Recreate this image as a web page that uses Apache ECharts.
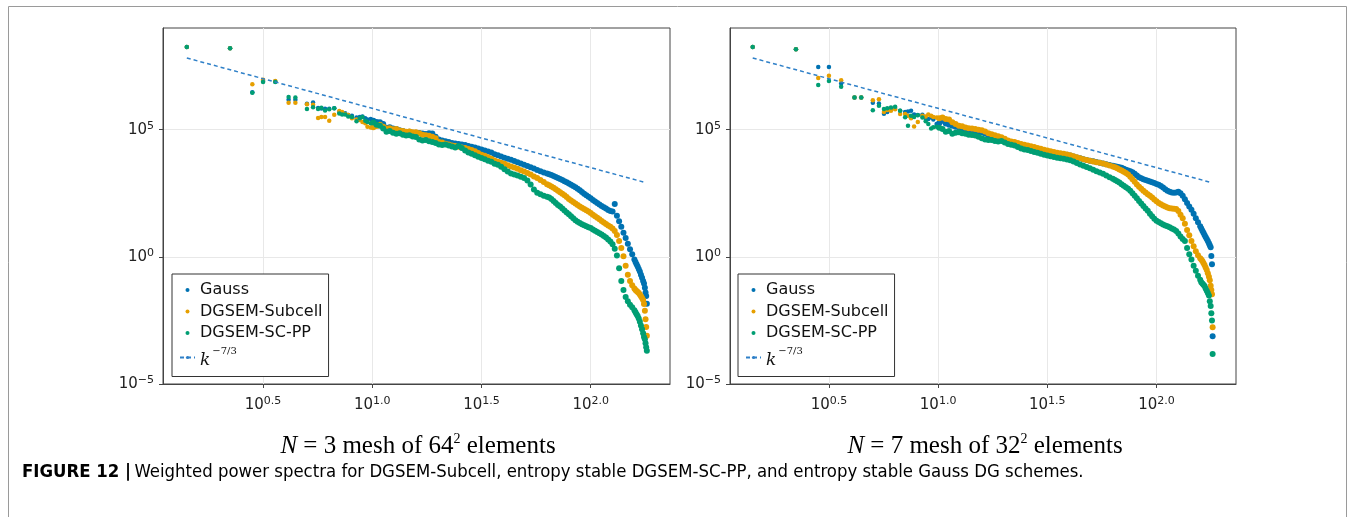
<!DOCTYPE html>
<html>
<head>
<meta charset="utf-8">
<title>Weighted power spectra</title>
<script src="https://cdn.jsdelivr.net/npm/echarts@6.0.0/dist/echarts.min.js"></script>
<style>
  html, body { margin: 0; padding: 0; background: #fff; }
  #chart { width: 1354px; height: 517px; }
</style>
</head>
<body>
<div id="chart"></div>
<script>
// log10 of the wavenumber k, shared by both meshes
const logK = [
  0.151, 0.349, 0.451, 0.5, 0.556, 0.617, 0.648, 0.701, 0.729, 0.752,
  0.767, 0.784, 0.803, 0.826, 0.849, 0.862, 0.876, 0.89, 0.907, 0.928,
  0.943, 0.955, 0.968, 0.978, 0.993,
  1.005, 1.02, 1.035, 1.05, 1.065, 1.08, 1.095, 1.11, 1.125, 1.14,
  1.155, 1.17, 1.185, 1.2, 1.215, 1.23, 1.245, 1.26, 1.275, 1.29,
  1.305, 1.32, 1.335, 1.35, 1.365, 1.38, 1.395, 1.41, 1.425, 1.44,
  1.455, 1.47, 1.485, 1.5, 1.515, 1.53, 1.545, 1.56, 1.575, 1.59,
  1.605, 1.62, 1.635, 1.65, 1.665, 1.68, 1.695, 1.71, 1.725, 1.74,
  1.755, 1.77, 1.785, 1.8,
  1.81, 1.82, 1.83, 1.84, 1.85, 1.86, 1.87, 1.88, 1.89, 1.9,
  1.91, 1.92, 1.93, 1.94, 1.95, 1.96, 1.97, 1.98, 1.99, 2.0,
  2.01, 2.02, 2.03, 2.04, 2.05, 2.06, 2.07, 2.08, 2.09, 2.1,
  2.11, 2.12, 2.13, 2.14, 2.15, 2.16, 2.17, 2.18, 2.19, 2.2,
  2.205, 2.21, 2.215, 2.22, 2.225, 2.23, 2.235, 2.24, 2.244, 2.248,
  2.251, 2.254, 2.257
];

// log10 of the weighted spectrum, N=3 mesh of 64^2 elements
const gaussN3 = [
  8.25, 8.20, 6.47, 6.92, 6.90, 6.18, 6.18, 6.02, 6.07, 5.85,
  5.83, 5.82, 5.82, 5.84, 5.70, 5.66, 5.65, 5.58, 5.55, 5.48,
  5.50, 5.52, 5.45, 5.40, 5.42,
  5.35, 5.30, 5.29, 5.22, 5.08, 5.10, 5.05, 5.03, 4.98, 4.95,
  4.90, 4.92, 4.88, 4.88, 4.87, 4.85, 4.83, 4.86, 4.85, 4.72,
  4.62, 4.58, 4.55, 4.52, 4.48, 4.46, 4.44, 4.42, 4.40, 4.36,
  4.33, 4.30, 4.26, 4.22, 4.18, 4.14, 4.10, 4.04, 4.00, 3.95,
  3.90, 3.86, 3.82, 3.77, 3.72, 3.67, 3.62, 3.57, 3.52, 3.47,
  3.42, 3.37, 3.32, 3.28,
  3.25, 3.22, 3.18, 3.14, 3.10, 3.06, 3.02, 2.97, 2.93, 2.88,
  2.84, 2.79, 2.74, 2.68, 2.62, 2.55, 2.48, 2.42, 2.36, 2.30,
  2.24, 2.18, 2.12, 2.06, 2.00, 1.95, 1.90, 1.84, 1.80, 1.78,
  2.08, 1.62, 1.40, 1.18, 0.95, 0.74, 0.52, 0.30, 0.10, -0.10,
  -0.20, -0.29, -0.38, -0.48, -0.58, -0.70, -0.82, -0.95, -1.05, -1.21,
  -1.40, -1.54, -1.84
];
const subcellN3 = [
  8.25, 8.20, 6.79, 6.96, 6.92, 6.06, 6.06, 6.00, 5.98, 5.46,
  5.50, 5.50, 5.35, 5.59, 5.74, 5.70, 5.62, 5.58, 5.45, 5.40,
  5.38, 5.30, 5.25, 5.12, 5.09,
  5.10, 5.15, 5.20, 5.12, 5.05, 5.06, 5.02, 5.03, 4.97, 4.95,
  4.92, 4.93, 4.90, 4.90, 4.86, 4.80, 4.78, 4.76, 4.72, 4.66,
  4.52, 4.50, 4.45, 4.42, 4.38, 4.36, 4.33, 4.30, 4.28, 4.24,
  4.20, 4.15, 4.08, 4.02, 3.98, 3.92, 3.86, 3.79, 3.74, 3.70,
  3.66, 3.60, 3.55, 3.51, 3.46, 3.41, 3.36, 3.30, 3.24, 3.16,
  3.10, 3.02, 2.94, 2.86,
  2.82, 2.77, 2.72, 2.66, 2.60, 2.54, 2.48, 2.42, 2.35, 2.28,
  2.22, 2.16, 2.10, 2.04, 1.98, 1.93, 1.88, 1.83, 1.78, 1.72,
  1.66, 1.60, 1.54, 1.48, 1.41, 1.35, 1.29, 1.23, 1.18, 1.12,
  1.02, 0.86, 0.62, 0.35, 0.02, -0.35, -0.70, -0.95, -1.12, -1.24,
  -1.30, -1.34, -1.38, -1.42, -1.48, -1.55, -1.62, -1.70, -1.85, -2.12,
  -2.45, -2.76, -3.10
];
const scppN3 = [
  8.25, 8.20, 6.45, 6.88, 6.88, 6.29, 6.27, 5.81, 5.88, 5.81,
  5.86, 5.76, 5.80, 5.84, 5.64, 5.60, 5.60, 5.52, 5.50, 5.33,
  5.45, 5.50, 5.35, 5.30, 5.25,
  5.28, 5.20, 5.16, 5.05, 4.92, 4.95, 4.88, 4.84, 4.86, 4.80,
  4.77, 4.78, 4.73, 4.71, 4.62, 4.58, 4.60, 4.55, 4.52, 4.48,
  4.42, 4.40, 4.42, 4.38, 4.34, 4.30, 4.36, 4.28, 4.18, 4.10,
  4.05, 4.00, 3.94, 3.89, 3.84, 3.78, 3.74, 3.66, 3.62, 3.54,
  3.45, 3.36, 3.28, 3.24, 3.20, 3.15, 3.10, 3.00, 2.85, 2.65,
  2.52, 2.46, 2.40, 2.36,
  2.33, 2.28, 2.20, 2.12, 2.04, 1.98, 1.90, 1.82, 1.74, 1.68,
  1.60, 1.52, 1.44, 1.38, 1.33, 1.28, 1.24, 1.20, 1.16, 1.13,
  1.08, 1.03, 0.98, 0.93, 0.88, 0.82, 0.76, 0.68, 0.60, 0.50,
  0.32, 0.05, -0.45, -0.95, -1.30, -1.58, -1.75, -1.88, -1.98, -2.10,
  -2.18, -2.26, -2.33, -2.42, -2.55, -2.70, -2.85, -3.00, -3.15, -3.24,
  -3.40, -3.55, -3.69
];

// log10 of the weighted spectrum, N=7 mesh of 32^2 elements
const gaussN7 = [
  8.25, 8.16, 7.47, 7.47, 6.82, 6.27, 6.27, 6.06, 6.03, 5.63,
  5.70, 5.80, 5.85, 5.75, 5.70, 5.72, 5.75, 5.60, 5.58, 5.59,
  5.45, 5.42, 5.48, 5.40, 5.22,
  5.25, 5.35, 5.24, 5.20, 5.16, 5.12, 5.09, 5.05, 4.97, 4.96,
  4.93, 4.90, 4.92, 4.90, 4.85, 4.78, 4.72, 4.66, 4.63, 4.60,
  4.56, 4.52, 4.48, 4.46, 4.42, 4.38, 4.35, 4.33, 4.30, 4.27,
  4.24, 4.20, 4.16, 4.13, 4.09, 4.07, 4.06, 4.04, 4.03, 4.02,
  3.99, 3.95, 3.91, 3.88, 3.84, 3.81, 3.78, 3.76, 3.73, 3.70,
  3.67, 3.64, 3.61, 3.58,
  3.56, 3.54, 3.52, 3.50, 3.46, 3.43, 3.40, 3.37, 3.33, 3.27,
  3.20, 3.13, 3.09, 3.05, 3.02, 2.99, 2.96, 2.93, 2.90, 2.87,
  2.84, 2.79, 2.73, 2.66, 2.60, 2.56, 2.53, 2.52, 2.53, 2.56,
  2.50, 2.40, 2.27, 2.12, 1.98, 1.85, 1.70, 1.52, 1.36, 1.20,
  1.12, 1.03, 0.95, 0.86, 0.78, 0.70, 0.62, 0.54, 0.46, 0.38,
  0.03, -0.29, -3.12
];
const subcellN7 = [
  8.25, 8.16, 7.03, 7.12, 6.95, 6.27, 6.27, 6.16, 6.20, 5.70,
  5.78, 5.75, 5.80, 5.62, 5.62, 5.55, 5.45, 5.13, 5.30, 5.55,
  5.52, 5.60, 5.55, 5.50, 5.48,
  5.45, 5.48, 5.42, 5.40, 5.29, 5.22, 5.16, 5.14, 5.09, 5.06,
  5.05, 5.03, 5.00, 4.98, 4.93, 4.86, 4.82, 4.78, 4.74, 4.70,
  4.64, 4.58, 4.54, 4.52, 4.48, 4.44, 4.41, 4.38, 4.35, 4.32,
  4.28, 4.25, 4.21, 4.18, 4.15, 4.12, 4.09, 4.07, 4.05, 4.03,
  4.00, 3.96, 3.92, 3.88, 3.84, 3.81, 3.78, 3.75, 3.72, 3.70,
  3.67, 3.63, 3.59, 3.55,
  3.52, 3.48, 3.44, 3.40, 3.35, 3.30, 3.24, 3.15, 3.05, 2.95,
  2.85, 2.76, 2.68, 2.60, 2.53, 2.46, 2.40, 2.33, 2.26, 2.19,
  2.12, 2.07, 2.02, 1.98, 1.94, 1.91, 1.90, 1.89, 1.88, 1.80,
  1.66, 1.52, 1.30, 1.06, 0.85, 0.62, 0.42, 0.22, 0.06, -0.05,
  -0.10, -0.16, -0.24, -0.32, -0.42, -0.52, -0.64, -0.78, -0.92, -1.14,
  -1.30, -1.47, -2.77
];
const scppN7 = [
  8.25, 8.16, 6.76, 6.92, 6.69, 6.27, 6.27, 5.77, 5.94, 5.81,
  5.84, 5.87, 5.90, 5.75, 5.49, 5.16, 5.55, 5.50, 5.57, 5.48,
  5.33, 5.22, 5.05, 5.10, 5.12,
  5.08, 5.03, 4.92, 4.95, 4.84, 4.88, 4.90, 4.86, 4.84, 4.80,
  4.79, 4.77, 4.72, 4.66, 4.62, 4.60, 4.60, 4.56, 4.54, 4.56,
  4.50, 4.44, 4.41, 4.38, 4.32, 4.26, 4.22, 4.20, 4.16, 4.12,
  4.09, 4.05, 4.02, 3.99, 3.96, 3.93, 3.90, 3.88, 3.86, 3.83,
  3.80, 3.75, 3.69, 3.63, 3.58, 3.53, 3.48, 3.43, 3.37, 3.32,
  3.27, 3.20, 3.13, 3.07,
  3.02, 2.97, 2.92, 2.86, 2.80, 2.74, 2.68, 2.60, 2.50, 2.40,
  2.30, 2.20, 2.10, 2.00, 1.90, 1.81, 1.70, 1.60, 1.50, 1.42,
  1.37, 1.32, 1.27, 1.23, 1.20, 1.16, 1.12, 1.08, 1.02, 0.92,
  0.80, 0.70, 0.62, 0.35, 0.10, -0.10, -0.35, -0.55, -0.74, -0.90,
  -1.00, -1.05, -1.10, -1.15, -1.24, -1.33, -1.42, -1.52, -1.75, -1.93,
  -2.22, -2.50, -3.82
];

// k^(-7/3) reference line (end points, log10 values)
const refLogK = [0.151, 2.252];
const refLogE = [7.82, 2.92];

const seriesNames = ['Gauss', 'DGSEM-Subcell', 'DGSEM-SC-PP'];
const refName = 'k-7/3';
const colors = ['#0072B2', '#E69F00', '#009E73'];
const xTicks = [0.5, 1.0, 1.5, 2.0];
const yTicks = [-5, 0, 5];
const panelTitles = ['3 mesh of 64', '7 mesh of 32'];

const chart = echarts.init(document.getElementById('chart'));

const pairs = (xs, ys) => xs.map((x, i) => [x, ys[i]]);

const tickRich = {
  b: { fontFamily: 'DejaVu Sans', fontSize: 15, color: '#222', lineHeight: 18 },
  s: { fontFamily: 'DejaVu Sans', fontSize: 11, color: '#222', lineHeight: 12, verticalAlign: 'top' }
};

function xAxisFor(gridIndex, min, max) {
  return {
    type: 'value', gridIndex, min, max,
    axisLine: { show: true, onZero: false, lineStyle: { color: '#444' } },
    axisTick: { show: true, customValues: xTicks, length: 4, lineStyle: { color: '#444' } },
    axisLabel: {
      customValues: xTicks, margin: 12, rich: tickRich,
      formatter: v => '{b|10}{s|' + v.toFixed(1) + '}'
    },
    splitLine: { show: true, lineStyle: { color: '#e8e8e8' } }
  };
}

function yAxisFor(gridIndex) {
  return {
    type: 'value', gridIndex, min: -5, max: 9,
    axisLine: { show: true, onZero: false, lineStyle: { color: '#444' } },
    axisTick: { show: true, customValues: yTicks, length: 4, lineStyle: { color: '#444' } },
    axisLabel: {
      customValues: yTicks, margin: 9, rich: tickRich,
      formatter: v => '{b|10}{s|' + (v < 0 ? '\u2212' + (-v) : v) + '}'
    },
    splitLine: { show: true, lineStyle: { color: '#e8e8e8' } }
  };
}

function panelSeries(idx, data) {
  const out = data.map((ys, i) => ({
    type: 'scatter',
    name: seriesNames[i],
    xAxisIndex: idx, yAxisIndex: idx,
    data: pairs(logK, ys),
    // the dense high-k part forms a band in the original plot
    symbolSize: v => (v[0] > 1.0 ? 6 : 4.5),
    itemStyle: { color: colors[i], opacity: 1 },
    silent: true
  }));
  out.push({
    type: 'line',
    name: refName,
    xAxisIndex: idx, yAxisIndex: idx,
    data: pairs(refLogK, refLogE),
    symbol: 'none',
    lineStyle: { type: [4, 3], width: 1.5, color: '#2f80c8' },
    itemStyle: { color: '#2f80c8' },
    silent: true
  });
  return out;
}

function legendFor(left) {
  return {
    left, top: 274,
    orient: 'vertical',
    data: [...seriesNames, refName],
    selectedMode: false,
    itemWidth: 15, itemHeight: 4, itemGap: 3.5,
    padding: [7, 6, 7, 7],
    borderColor: '#333', borderWidth: 1, backgroundColor: '#fff',
    textStyle: { fontFamily: 'DejaVu Sans', fontSize: 16, color: '#111', lineHeight: 18,
      rich: {
        k: { fontFamily: 'DejaVu Serif', fontStyle: 'italic', fontSize: 17, color: '#111', lineHeight: 24, verticalAlign: 'bottom' },
        s: { fontFamily: 'DejaVu Serif', fontSize: 10, color: '#111', lineHeight: 12, verticalAlign: 'top', padding: [1, 0, 0, 2] }
      }
    },
    formatter: name => name === refName ? '{k|k}{s|\u22127/3}' : name
  };
}

const subRich = {
  i: { fontFamily: 'Liberation Serif', fontStyle: 'italic', fontSize: 25, color: '#111', lineHeight: 28 },
  r: { fontFamily: 'Liberation Serif', fontSize: 25, color: '#111', lineHeight: 28 },
  s: { fontFamily: 'Liberation Serif', fontSize: 14, color: '#111', lineHeight: 14, verticalAlign: 'top' }
};

function subtitle(cx, body) {
  return {
    type: 'text', x: cx, y: 446,
    style: {
      text: '{i|N}{r| = ' + body + '}{s|2}{r| elements}',
      rich: subRich, align: 'center', verticalAlign: 'middle'
    }
  };
}

const captionFont = "'Liberation Sans Narrow', 'DejaVu Sans Condensed', sans-serif";

const option = {
  animation: false,
  backgroundColor: '#fff',
  grid: [
    { left: 163, top: 28, width: 507, height: 356, show: true, borderColor: '#444', borderWidth: 1 },
    { left: 730, top: 28, width: 506, height: 356, show: true, borderColor: '#444', borderWidth: 1 }
  ],
  xAxis: [xAxisFor(0, 0.042, 2.363), xAxisFor(1, 0.047, 2.364)],
  yAxis: [yAxisFor(0), yAxisFor(1)],
  legend: [legendFor(172), legendFor(738)],
  series: [
    ...panelSeries(0, [gaussN3, subcellN3, scppN3]),
    ...panelSeries(1, [gaussN7, subcellN7, scppN7])
  ],
  graphic: [
    { type: 'rect', z: -10, shape: { x: 8.5, y: 6.5, width: 1338, height: 600 },
      style: { fill: 'none', stroke: '#9a9a9a', lineWidth: 1 } },
    subtitle(418, panelTitles[0]),
    subtitle(985, panelTitles[1]),
    {
      type: 'text', x: 22, y: 472,
      style: {
        text: '{b|FIGURE 12 |} {n|Weighted power spectra for DGSEM-Subcell, entropy stable DGSEM-SC-PP, and entropy stable Gauss DG schemes.}',
        align: 'left', verticalAlign: 'middle',
        rich: {
          b: { fontFamily: captionFont, fontWeight: 'bold', fontSize: 18.4, color: '#231f20' },
          n: { fontFamily: captionFont, fontSize: 18.4, color: '#333' }
        }
      }
    }
  ]
};

chart.setOption(option);
</script>
</body>
</html>
